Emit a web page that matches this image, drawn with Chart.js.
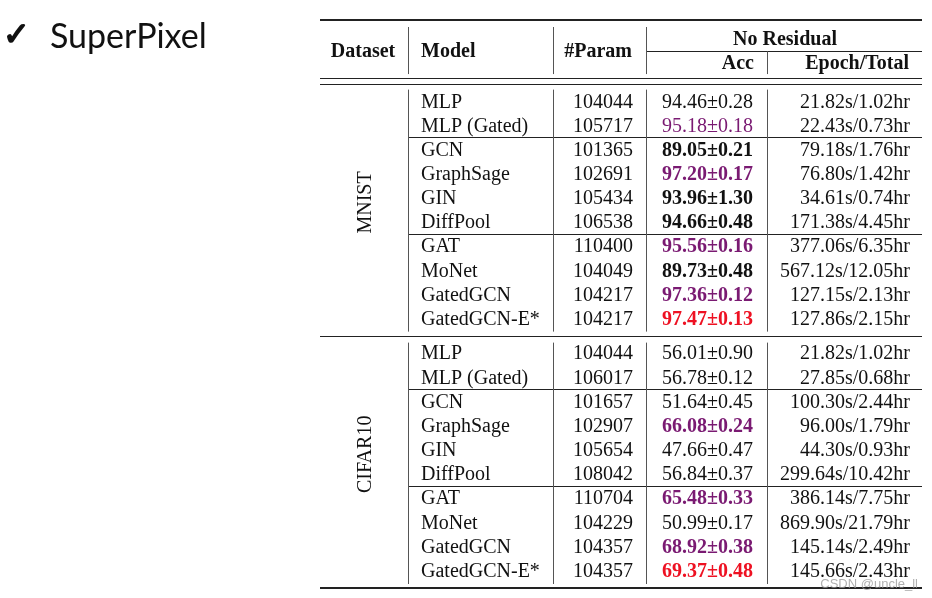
<!DOCTYPE html>
<html><head><meta charset="utf-8">
<script src="https://cdn.jsdelivr.net/npm/chart.js@4.4.0/dist/chart.umd.min.js"></script>
<style>html,body{margin:0;padding:0;background:#fff}#wrap{width:932px;height:598px;position:relative;background:#fff}</style>
</head><body><div id="wrap"><canvas id="c"></canvas></div>
<script>
// ---------- data ----------
const slideTitle = 'SuperPixel';
const colHeaders = ['Dataset', 'Model', '#Param'];
const groupHeader = 'No Residual';
const subHeaders = ['Acc', 'Epoch/Total'];
const datasetNames = ['MNIST', 'CIFAR10'];
const models = ['MLP', 'MLP (Gated)', 'GCN', 'GraphSage', 'GIN', 'DiffPool', 'GAT', 'MoNet', 'GatedGCN', 'GatedGCN-E*'];
const modelGroupStarts = [2, 6];

const mnistParams = [104044, 105717, 101365, 102691, 105434, 106538, 110400, 104049, 104217, 104217];
const mnistAccMean = [94.46, 95.18, 89.05, 97.20, 93.96, 94.66, 95.56, 89.73, 97.36, 97.47];
const mnistAccStd = [0.28, 0.18, 0.21, 0.17, 1.30, 0.48, 0.16, 0.48, 0.12, 0.13];
const mnistEpochSec = [21.82, 22.43, 79.18, 76.80, 34.61, 171.38, 377.06, 567.12, 127.15, 127.86];
const mnistTotalHr = [1.02, 0.73, 1.76, 1.42, 0.74, 4.45, 6.35, 12.05, 2.13, 2.15];
const mnistAccMark = ['', 'top', 'bold', 'top-bold', 'bold', 'bold', 'top-bold', 'bold', 'top-bold', 'best'];

const cifarParams = [104044, 106017, 101657, 102907, 105654, 108042, 110704, 104229, 104357, 104357];
const cifarAccMean = [56.01, 56.78, 51.64, 66.08, 47.66, 56.84, 65.48, 50.99, 68.92, 69.37];
const cifarAccStd = [0.90, 0.12, 0.45, 0.24, 0.47, 0.37, 0.33, 0.17, 0.38, 0.48];
const cifarEpochSec = [21.82, 27.85, 100.30, 96.00, 44.30, 299.64, 386.14, 869.90, 145.14, 145.66];
const cifarTotalHr = [1.02, 0.68, 2.44, 1.79, 0.93, 10.42, 7.75, 21.79, 2.49, 2.43];
const cifarAccMark = ['', '', '', 'top-bold', '', '', 'top-bold', '', 'top-bold', 'best'];

const watermark = 'CSDN @uncle_ll';

// ---------- layout (not data) ----------
const L = {
  blockStart: [0, 10.43],
  yMin: -3.354, yMax: 20.166,
  xMax: 602,
  colDataset: 46, vline1: 88, colModel: 101, vline2: 233, colParam: 313,
  vline3: 326, colAcc: 433, vline4: 447, colEpoch: 590,
  hdrRow: -2.11, grpRow: -2.61, subRow: -1.61, cmid: -2.06,
  dbl1: -0.95, dbl2: -0.72, mid: 9.715,
  labelOffset: 4.2
};
const SERIF = '"Liberation Serif", "Times New Roman", serif';
const PURPLE = '#7a1a72', RED = '#ee1122';

const blocks = [
  {name: datasetNames[0], params: mnistParams, mean: mnistAccMean, std: mnistAccStd, ep: mnistEpochSec, tot: mnistTotalHr, mark: mnistAccMark},
  {name: datasetNames[1], params: cifarParams, mean: cifarAccMean, std: cifarAccStd, ep: cifarEpochSec, tot: cifarTotalHr, mark: cifarAccMark}
];

function columnDataset(key, anchor, textFn, styleFn, align) {
  const data = [], texts = [], styles = [];
  blocks.forEach((b, bi) => {
    models.forEach((m, i) => {
      data.push({x: anchor, y: L.blockStart[bi] + i});
      texts.push(textFn(b, i, m));
      styles.push(styleFn ? styleFn(b, i) : '');
    });
  });
  return {label: key, data, cellText: texts, cellStyle: styles, cellAlign: align, pointRadius: 0, showLine: false};
}

const chartData = {
  datasets: [
    columnDataset('Model', L.colModel, (b, i, m) => m, null, 'left'),
    columnDataset('#Param', L.colParam, (b, i) => String(b.params[i]), null, 'right'),
    columnDataset('Acc', L.colAcc, (b, i) => b.mean[i].toFixed(2) + '±' + b.std[i].toFixed(2), (b, i) => b.mark[i], 'right'),
    columnDataset('Epoch/Total', L.colEpoch, (b, i) => b.ep[i].toFixed(2) + 's/' + b.tot[i].toFixed(2) + 'hr', null, 'right')
  ]
};

function styleFor(mark) {
  switch (mark) {
    case 'top': return {bold: false, color: PURPLE};
    case 'bold': return {bold: true, color: '#111'};
    case 'top-bold': return {bold: true, color: PURPLE};
    case 'best': return {bold: true, color: RED};
    default: return {bold: false, color: '#111'};
  }
}

const tablePlugin = {
  id: 'table',
  afterDatasetsDraw(chart) {
    const ctx = chart.ctx, xs = chart.scales.x, ys = chart.scales.y;
    const X = v => xs.getPixelForValue(v), Y = v => ys.getPixelForValue(v);
    ctx.save();
    // title
    ctx.fillStyle = '#111'; ctx.strokeStyle = '#111';
    ctx.textAlign = 'left'; ctx.textBaseline = 'alphabetic';
    ctx.font = '32px "DejaVu Sans"';
    ctx.lineWidth = 1.6;
    ctx.fillText('✓', 3, 45);
    ctx.strokeText('✓', 3, 45);
    ctx.font = '34px Lato, "Open Sans", sans-serif';
    ctx.fillText(slideTitle, 50, 48);

    const text = (s, x, y, align, bold, color, size) => {
      ctx.font = (bold ? 'bold ' : '') + (size || 20) + 'px ' + SERIF;
      ctx.fillStyle = color || '#111';
      ctx.textAlign = align;
      ctx.textBaseline = 'alphabetic';
      ctx.fillText(s, x, y + 6.6);
    };
    const hline = (yv, x0, x1, w, c) => {
      ctx.beginPath(); ctx.lineWidth = w; ctx.strokeStyle = c || '#222';
      ctx.moveTo(X(x0), Math.round(Y(yv)) + (w % 2 ? 0.5 : 0));
      ctx.lineTo(X(x1), Math.round(Y(yv)) + (w % 2 ? 0.5 : 0));
      ctx.stroke();
    };
    const vline = (xv, y0px, y1px) => {
      ctx.beginPath(); ctx.lineWidth = 1; ctx.strokeStyle = '#555';
      const xp = Math.round(X(xv)) + 0.5;
      ctx.moveTo(xp, y0px); ctx.lineTo(xp, y1px); ctx.stroke();
    };

    // rules
    hline(L.yMin, 0, L.xMax, 2, '#222');
    hline(L.cmid, L.vline3 + 1, L.xMax, 1);
    hline(L.dbl1, 0, L.xMax, 1);
    hline(L.dbl2, 0, L.xMax, 1);
    hline(L.mid, 0, L.xMax, 1);
    hline(L.yMax, 0, L.xMax, 2, '#222');
    blocks.forEach((b, bi) => {
      modelGroupStarts.forEach(g => hline(L.blockStart[bi] + g - 0.5, L.vline1, L.xMax, 1));
    });
    // vertical rules
    const hTop = Y(L.yMin) + 7, hBot = Y(L.dbl1) - 4;
    [L.vline1, L.vline2, L.vline3].forEach(v => vline(v, hTop, hBot));
    vline(L.vline4, Y(L.cmid), hBot);
    const segs = [[Y(L.dbl2) + 6, Y(L.mid) - 4], [Y(L.mid) + 7, Y(L.yMax) - 4]];
    segs.forEach(([a, c]) => [L.vline1, L.vline2, L.vline3, L.vline4].forEach(v => vline(v, a, c)));

    // headers
    text(colHeaders[0], X(L.colDataset - 3), Y(L.hdrRow), 'center', true);
    text(colHeaders[1], X(L.colModel), Y(L.hdrRow), 'left', true);
    text(colHeaders[2], X(L.colParam - 1), Y(L.hdrRow), 'right', true);
    text(groupHeader, X((L.vline3 + L.xMax) / 2 + 1), Y(L.grpRow), 'center', true);
    text(subHeaders[0], X(L.colAcc + 1), Y(L.subRow), 'right', true);
    text(subHeaders[1], X(L.colEpoch - 1), Y(L.subRow), 'right', true);

    // rotated dataset labels
    blocks.forEach((b, bi) => {
      ctx.save();
      ctx.translate(X(L.colDataset), Y(L.blockStart[bi] + L.labelOffset));
      ctx.rotate(-Math.PI / 2);
      ctx.font = '20px ' + SERIF; ctx.fillStyle = '#111';
      ctx.textAlign = 'center'; ctx.textBaseline = 'middle';
      ctx.fillText(b.name, 0, 0);
      ctx.restore();
    });

    // cells from dataset elements
    chart.data.datasets.forEach((ds, di) => {
      const meta = chart.getDatasetMeta(di);
      meta.data.forEach((pt, i) => {
        const st = styleFor(ds.cellStyle[i]);
        text(ds.cellText[i], pt.x, pt.y, ds.cellAlign, st.bold, st.color);
      });
    });

    // watermark
    ctx.font = '13px "Liberation Sans", Arial, sans-serif';
    ctx.fillStyle = 'rgba(150,150,150,0.75)';
    ctx.textAlign = 'right'; ctx.textBaseline = 'middle';
    ctx.fillText(watermark, 918, 584);
    ctx.restore();
  }
};

new Chart(document.getElementById('c'), {
  type: 'scatter',
  data: chartData,
  options: {
    responsive: true, maintainAspectRatio: false, animation: false, events: [],
    layout: {padding: {left: 320, right: 10, top: 20, bottom: 10}},
    scales: {
      x: {type: 'linear', display: false, min: 0, max: L.xMax},
      y: {type: 'linear', display: false, reverse: true, min: L.yMin, max: L.yMax}
    },
    plugins: {legend: {display: false}, tooltip: {enabled: false}, title: {display: false}}
  },
  plugins: [tablePlugin]
});
</script>
</body></html>
